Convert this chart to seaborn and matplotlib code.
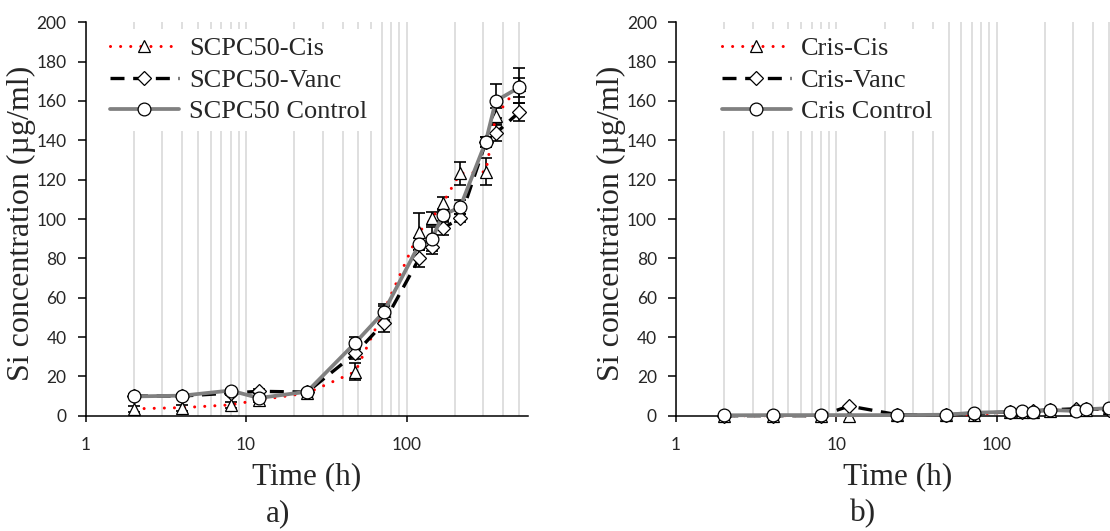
import numpy as np
import pandas as pd
import matplotlib
matplotlib.use("Agg")
import matplotlib.pyplot as plt
import seaborn as sns
from matplotlib.ticker import LogLocator, NullFormatter, FixedLocator, FixedFormatter

# ---------------- data ----------------
time_h = [2, 4, 8, 12, 24, 48, 72, 120, 144, 168, 216, 312, 360, 504]

a_labels = ["SCPC50-Cis", "SCPC50-Vanc", "SCPC50 Control"]
a_cis = [3.5, 4.1, 5.5, 8, 11.5, 22.4, 53, 93.5, 100.3, 108, 123.2, 124, 152.2, 168]
a_cis_err = [1.5, 1.5, 1.5, 1, 1, 4.2, 3, 9.4, 3.4, 3.3, 6, 6.8, 4, 9]
a_vanc = [10, 10, 11.5, 12.4, 12, 31.7, 47, 80, 85.9, 95.3, 100.3, 139, 143.6, 154.3]
a_vanc_err = [1, 1, 1, 1, 1, 3, 4.3, 4.3, 3.7, 3.4, 2, 2.5, 4, 4.5]
a_ctrl = [9.8, 10.2, 12.8, 9, 12.2, 37.1, 52.6, 87.1, 89.7, 102, 106, 139.3, 160, 166.9]
a_ctrl_err = [1, 1, 1, 1, 1, 3.1, 4.2, 3, 6, 3, 3.5, 2.5, 8.5, 5]

b_labels = ["Cris-Cis", "Cris-Vanc", "Cris Control"]
b_cis = [0, 0, 0, 0, 0.3, 0.5, 0.5, 2, 2, 2, 2.5, 3.5, 3, 3.8]
b_vanc = [0, 0, 0, 4.9, 0.5, 0.5, 1, 2, 2, 2.5, 3, 3.5, 3.5, 3]
b_ctrl = [0.2, 0.3, 0.3, np.nan, 0.3, 0.5, 1.5, 2, 2.4, 2, 2.9, 2.4, 3.3, 3.8]

y_ticks = [0, 20, 40, 60, 80, 100, 120, 140, 160, 180, 200]
x_ticks = [1, 10, 100]
x_ticklabels = ["1", "10", "100"]
panel_tags = ["a)", "b)"]

# ---------------- style ----------------
sns.set_style("white")
plt.rcParams["font.family"] = ["Lato", "DejaVu Sans"]
SERIF = ["Liberation Serif", "DejaVu Serif"]

W, H = 1110, 531
fig = plt.figure(figsize=(W / 100, H / 100), dpi=100)

ax_w = 442.3 / W
ax_h = 393.4 / H
ax_b = 115.3 / H
axA = fig.add_axes([85.7 / W, ax_b, ax_w, ax_h])
axB = fig.add_axes([676 / W, ax_b, ax_w, ax_h])

decade_px = 160.4
xmax = 10 ** (442.3 / decade_px)

styles = [
    dict(color="#ff0000", lw=2.2, linestyle=(0, (0.01, 3.3)), marker="^", markersize=9,
         dash_capstyle="round", solid_capstyle="round"),
    dict(color="black", lw=2.4, linestyle=(0, (4.2, 2.6)), marker="D", markersize=7.4,
         dash_capstyle="butt"),
    dict(color="#808080", lw=2.7, linestyle="-", marker="o", markersize=9.2,
         solid_capstyle="round"),
]


def draw_panel(ax, series, errs, labels, leg_x, tag, tag_x):
    ax.set_xscale("log")
    # errorbars below markers
    if errs is not None:
        for vals, err in zip(series, errs):
            ax.errorbar(time_h, vals, yerr=err, fmt="none", ecolor="black",
                        elinewidth=1.2, capsize=4.2, capthick=1.2, zorder=2,
                        clip_on=False)
    handles = []
    for vals, lab, st in zip(series, labels, styles):
        df = pd.DataFrame({"t": time_h, "v": vals}).dropna()
        sns.lineplot(data=df, x="t", y="v", ax=ax, label=lab,
                     markerfacecolor="white", markeredgecolor="black",
                     markeredgewidth=0.9, zorder=3, clip_on=False, **st)
        handles.append(ax.get_lines()[-1])

    ax.set_xlim(1, xmax)
    ax.set_ylim(0, 200)
    ax.yaxis.set_major_locator(FixedLocator(y_ticks))
    ax.xaxis.set_major_locator(FixedLocator(x_ticks))
    ax.xaxis.set_major_formatter(FixedFormatter(x_ticklabels))
    ax.xaxis.set_minor_locator(LogLocator(base=10, subs=np.arange(2, 10), numticks=30))
    ax.xaxis.set_minor_formatter(NullFormatter())
    ax.grid(False)
    ax.grid(True, which="both", axis="x", color="#d9d9d9", lw=1.2, zorder=0)
    ax.set_axisbelow(True)

    for s in ["top", "right"]:
        ax.spines[s].set_visible(False)
    for s in ["left", "bottom"]:
        ax.spines[s].set_color("black")
        ax.spines[s].set_linewidth(1.1)

    ax.tick_params(axis="y", which="major", direction="out", length=5.8, width=1.1,
                   color="black", labelsize=12.5, pad=8, left=True)
    ax.tick_params(axis="x", which="major", direction="out", length=4.0, width=1.1,
                   color="black", labelsize=12.5, pad=11, bottom=True)
    ax.tick_params(axis="x", which="minor", length=0)

    ax.set_xlabel("Time (h)", family=SERIF, fontsize=22.5)
    ax.xaxis.label.set_verticalalignment("center")
    ax.xaxis.set_label_coords(0.5, -0.156)
    ax.set_ylabel("Si concentration (µg/ml)", family=SERIF, fontsize=23)
    ax.yaxis.label.set_verticalalignment("center")
    ax.yaxis.set_label_coords(-0.146, 0.49)

    leg = ax.legend(handles=handles, labels=labels, loc="upper left",
                    bbox_to_anchor=(leg_x / W, 1 - 29 / H), bbox_transform=fig.transFigure,
                    borderaxespad=0, borderpad=0.3, frameon=True, fancybox=False,
                    facecolor="white", edgecolor="none", framealpha=1,
                    handlelength=2.6, handletextpad=0.4, labelspacing=0.3,
                    numpoints=1, prop={"family": SERIF, "size": 19})
    leg.set_zorder(5)

    fig.text(tag_x / W, 1 - 514 / H, tag, family=SERIF, fontsize=22.5,
             ha="center", va="center")


draw_panel(axA, [a_cis, a_vanc, a_ctrl], [a_cis_err, a_vanc_err, a_ctrl_err],
           a_labels, 102, panel_tags[0], 278)
draw_panel(axB, [b_cis, b_vanc, b_ctrl], None, b_labels, 714, panel_tags[1], 863)

fig.savefig("out.png", dpi=100)
